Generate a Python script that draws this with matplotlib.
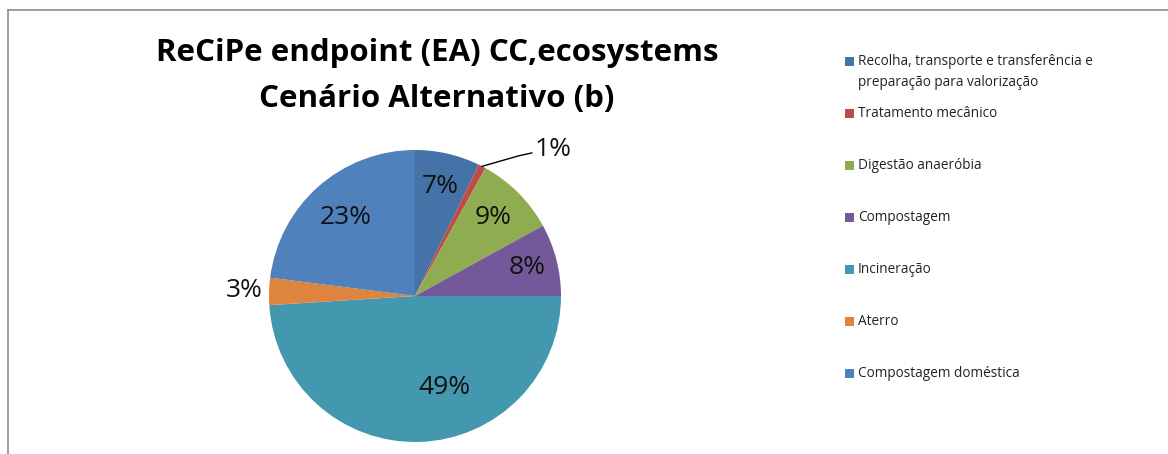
import numpy as np
import matplotlib
matplotlib.use("Agg")
import matplotlib.pyplot as plt
from matplotlib.patches import Rectangle
from matplotlib.lines import Line2D

plt.rcParams["font.family"] = ["Open Sans", "DejaVu Sans"]

# data
categories = ["Recolha, transporte e transferência e\npreparação para valorização",
              "Tratamento mecânico",
              "Digestão anaeróbia",
              "Compostagem",
              "Incineração",
              "Aterro",
              "Compostagem doméstica"]
shares = [7.2, 0.8, 9.0, 8.0, 49.0, 3.0, 23.0]
pct_labels = ["7%", "1%", "9%", "8%", "49%", "3%", "23%"]
colors = ["#4572A7", "#BE4B48", "#8FAD50", "#74599A", "#4398AF", "#DE843E", "#4F81BD"]

W, H = 1168, 454
fig = plt.figure(figsize=(W / 100, H / 100), dpi=100)

# outer frame (left and top edge visible)
fig.add_artist(Line2D([8 / W, 8 / W], [0, 1 - 10 / H], transform=fig.transFigure,
                      color="#8c8c8c", lw=1.2))
fig.add_artist(Line2D([8 / W, 1], [1 - 10 / H, 1 - 10 / H], transform=fig.transFigure,
                      color="#8c8c8c", lw=1.2))

# pie axes: centre (415, 296), radius 146 px
cx, cy, r = 415, 296, 146
ax = fig.add_axes([(cx - r) / W, (H - cy - r) / H, 2 * r / W, 2 * r / H])
wedges, _ = ax.pie(shares, colors=colors, startangle=90, counterclock=False,
                   radius=1.0, wedgeprops=dict(linewidth=0))
ax.set_xlim(-1, 1)
ax.set_ylim(-1, 1)
ax.set_aspect("equal")
ax.axis("off")

# percentage labels
dist = [0.77, None, 0.76, 0.79, 0.66, None, 0.72]
for i, w in enumerate(wedges):
    mid = np.deg2rad((w.theta1 + w.theta2) / 2)
    if pct_labels[i] == "49%":
        mid = np.deg2rad(-72)
    if dist[i] is not None:
        ax.text(dist[i] * np.cos(mid), dist[i] * np.sin(mid), pct_labels[i],
                ha="center", va="center", fontsize=19, color="#111111")

# outside labels
w1 = wedges[1]
a1 = np.deg2rad((w1.theta1 + w1.theta2) / 2)
x0, y0 = np.cos(a1), np.sin(a1)
ax.plot([x0, 0.71, 0.80], [y0, 0.96, 0.98], color="black", lw=1, clip_on=False)
ax.text(0.82, 1.00, pct_labels[1], ha="left", va="center", fontsize=19,
        color="#111111", clip_on=False)
w5 = wedges[5]
a5 = np.deg2rad((w5.theta1 + w5.theta2) / 2)
ax.text(1.17 * np.cos(a5), 1.17 * np.sin(a5), pct_labels[5], ha="center",
        va="center", fontsize=19, color="#111111", clip_on=False)

# title
fig.text(437 / W, 1 - 53 / H, "ReCiPe endpoint (EA) CC,ecosystems",
         ha="center", va="center", fontsize=22.5, fontweight="bold")
fig.text(437 / W, 1 - 99 / H, "Cenário Alternativo (b)",
         ha="center", va="center", fontsize=22.5, fontweight="bold")

# legend
for i, (lab, col) in enumerate(zip(categories, colors)):
    y = 61 + 52 * i
    fig.add_artist(Rectangle((845 / W, 1 - (y + 5) / H), 9 / W, 9 / H,
                             transform=fig.transFigure, facecolor=col, edgecolor="none"))
    fig.text(858 / W, 1 - (y - 7) / H, lab, ha="left", va="top", fontsize=9.8,
             color="#222222", linespacing=1.5)

fig.savefig("out.png", dpi=100, facecolor="white")
